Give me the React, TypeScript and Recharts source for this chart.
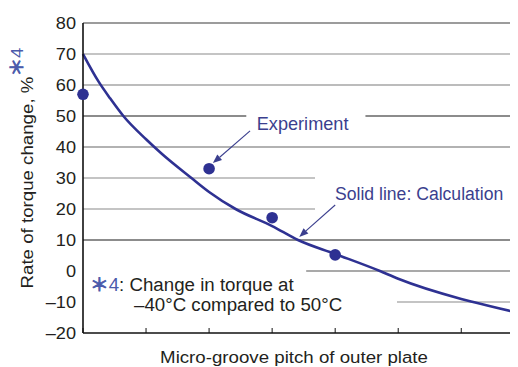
import React from 'react';
import { ComposedChart, Line, Scatter, XAxis, YAxis, ReferenceLine } from 'recharts';

// Calculated curve (solid line)
const calcX = [0, 0.25, 0.43, 0.64, 1.0, 1.24, 1.72, 2.0, 2.42, 3.0, 3.41, 4.0, 4.71, 5.0, 6.0, 6.19, 6.9];
const calcY = [70, 61, 55.7, 50, 42.5, 38, 30, 25.5, 20, 14.5, 10, 5.5, 0, -2.5, -9, -10, -13.5];
// Experiment points
const expX = [0, 2, 3, 4];
const expY = [57, 33, 17.2, 5.2];
// Axis ticks
const yTicks = [-20, -10, 0, 10, 20, 30, 40, 50, 60, 70, 80];
const yTickLabels = ['–20', '–10', '0', '10', '20', '30', '40', '50', '60', '70', '80'];
const xTicks = [0, 1, 2, 3, 4, 5, 6];
const xMax = 6.9;

const calcData = calcX.map((x, i) => ({ x, y: calcY[i] }));
const expData = expX.map((x, i) => ({ x, y: expY[i] }));

// gridline pieces (value, visible spans) – gaps are where annotation texts sit
const gridValues = [80, 70, 60, 50, 40, 30, 20, 10, 0, -10];
const gridSpans: number[][][] = [
  [[0, xMax]],
  [[0, xMax]],
  [[0, xMax]],
  [[0, 2.59], [4.48, xMax]],
  [[0, xMax]],
  [[0, 3.68]],
  [[0, 3.68]],
  [[0, xMax]],
  [[3.54, xMax]],
  [[4.98, xMax]],
];
const gridColors = ['#3a3a3a', '#8a8a8a', '#7a7a7a', '#1a1a1a', '#666', '#8a8a8a', '#8a8a8a', '#1a1a1a', '#555', '#8a8a8a'];

const FONT = "'Liberation Sans', Arial, 'Noto Sans CJK JP', sans-serif";
const NAVY = '#2e3192';
const ANNO = '#3b3f8e';
const STAR = '#4b5bab';
const INK = '#231f20';

const SText = ({ x, y, sx = 1, rotate = 0, anchor = 'start', size, fill = INK, children }: any) => (
  <text
    transform={`translate(${x},${y}) rotate(${rotate}) scale(${sx},1)`}
    textAnchor={anchor}
    fontSize={size}
    fill={fill}
    fontFamily={FONT}
  >
    {children}
  </text>
);

const YTick = (props: any) => {
  const { x, y, payload } = props;
  const idx = yTicks.indexOf(payload.value);
  return (
    <SText x={x} y={y + 5.8} sx={1.1} anchor="end" size={16.5}>
      {yTickLabels[idx]}
    </SText>
  );
};

const Arrow = (props: any) => {
  const { x1, y1, x2, y2 } = props;
  const dx = x2 - x1;
  const dy = y2 - y1;
  const len = Math.sqrt(dx * dx + dy * dy) || 1;
  const ux = dx / len;
  const uy = dy / len;
  const L = 9;
  const W = 3.6;
  const bx = x2 - ux * L;
  const by = y2 - uy * L;
  return (
    <g>
      <line x1={x1} y1={y1} x2={bx} y2={by} stroke={ANNO} strokeWidth={1.1} />
      <polygon
        points={`${x2},${y2} ${bx - uy * W},${by + ux * W} ${bx + uy * W},${by - ux * W}`}
        fill={ANNO}
      />
    </g>
  );
};

const Dot = (props: any) => {
  const { cx, cy } = props;
  return <circle cx={cx} cy={cy} r={5.8} fill={NAVY} />;
};

export default function App() {
  return (
    <div style={{ width: 510, height: 359, background: '#fff' }}>
      <ComposedChart width={510} height={359} margin={{ top: 15, right: 0, bottom: 34, left: 0 }}>
        <XAxis
          type="number"
          dataKey="x"
          domain={[0, xMax]}
          ticks={xTicks}
          mirror
          tickSize={5}
          tick={() => <g />}
          axisLine={{ stroke: '#111', strokeWidth: 1.6 }}
          tickLine={{ stroke: '#111', strokeWidth: 1 }}
        />
        <YAxis
          type="number"
          domain={[-20, 80]}
          ticks={yTicks}
          width={75}
          tickSize={0}
          tickMargin={7}
          tickLine={false}
          axisLine={{ stroke: '#111', strokeWidth: 1.6 }}
          tick={<YTick />}
          interval={0}
        />
        {gridValues.map((v, i) =>
          gridSpans[i].map((s, j) => (
            <ReferenceLine
              key={`g${i}-${j}`}
              segment={[{ x: s[0], y: v }, { x: s[1], y: v }]}
              stroke={gridColors[i]}
              strokeWidth={1.1}
            />
          ))
        )}
        <Line
          data={calcData}
          dataKey="y"
          type="monotone"
          stroke={NAVY}
          strokeWidth={2.6}
          dot={false}
          activeDot={false}
          isAnimationActive={false}
        />
        <Scatter data={expData} dataKey="y" fill={NAVY} shape={<Dot />} isAnimationActive={false} />
        <ReferenceLine segment={[{ x: 2.65, y: 45.2 }, { x: 2.06, y: 34.8 }]} shape={<Arrow />} />
        <ReferenceLine segment={[{ x: 4.0, y: 21.3 }, { x: 3.43, y: 11.0 }]} shape={<Arrow />} />
        <g>
          <SText x={248.7} y={122} sx={1.02} size={17.8} fill={ANNO}>Experiment</SText>
          <SText x={327} y={192} sx={1.0} size={17.6} fill={ANNO}>Solid line: Calculation</SText>
          <SText x={82} y={283} sx={1.05} size={17.8}>
            <tspan fill={STAR} stroke={STAR} strokeWidth={0.9}>＊</tspan>
            <tspan fill={STAR}>4</tspan>
            <tspan>: Change in torque at</tspan>
          </SText>
          <SText x={126} y={302.5} sx={1.05} size={17.8}>–40°C compared to 50°C</SText>
          <SText x={286} y={355} sx={1.08} anchor="middle" size={17.3}>Micro-groove pitch of outer plate</SText>
          <SText x={25} y={160} sx={1.08} rotate={-90} anchor="middle" size={17.3}>
            <tspan>Rate of torque change, %</tspan>
            <tspan fill={STAR} stroke={STAR} strokeWidth={0.9} dy={-10}>＊</tspan>
            <tspan fill={STAR}>4</tspan>
          </SText>
        </g>
      </ComposedChart>
    </div>
  );
}
